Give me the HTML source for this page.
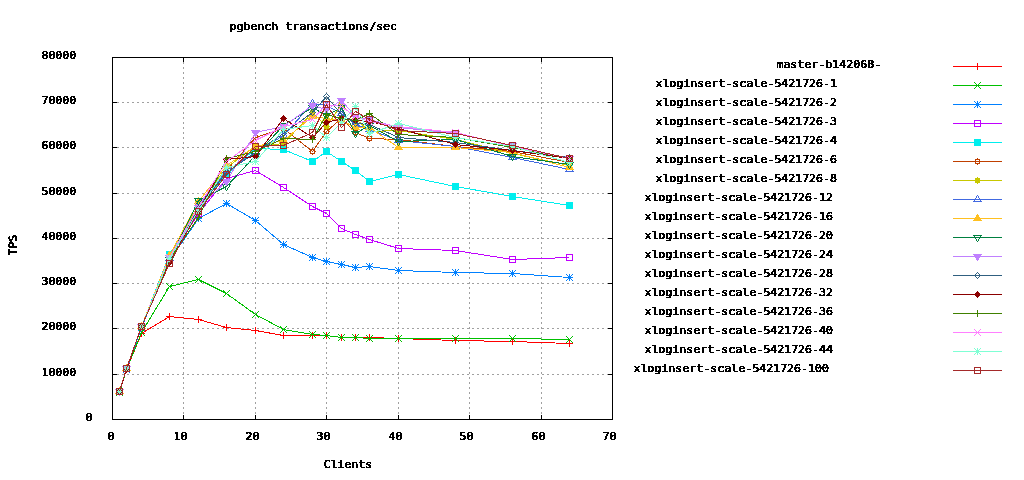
<!DOCTYPE html>
<html lang="en"><head><meta charset="utf-8"><title>pgbench transactions/sec</title>
<style>
html,body{margin:0;padding:0;background:#fff}
body{width:1024px;height:480px;overflow:hidden}
svg{display:block}
text{font-family:"DejaVu Sans Mono","Liberation Mono",monospace;font-weight:normal;font-size:11px;fill:#000;stroke:#000;stroke-width:.5px}
.g{stroke:#a0a0a0;stroke-width:1;stroke-dasharray:2 3;fill:none}
.b{stroke:#000;stroke-width:1;fill:none}
.s{stroke-width:1;fill:none}
</style></head><body>
<svg width="1024" height="480" viewBox="0 0 1024 480" shape-rendering="crispEdges">
<rect width="1024" height="480" fill="#fff"/>
<defs><filter id="bw" x="0" y="0" width="1024" height="480" filterUnits="userSpaceOnUse" color-interpolation-filters="sRGB"><feComponentTransfer><feFuncA type="discrete" tableValues="0 0 1 1 1"/></feComponentTransfer></filter></defs>
<g class="g">
<path d="M117 374.5H612"/>
<path d="M117 328.5H612"/>
<path d="M117 283.5H612"/>
<path d="M117 238.5H612"/>
<path d="M117 193.5H612"/>
<path d="M117 147.5H612"/>
<path d="M117 102.5H612"/>
<path d="M183.5 57V419"/>
<path d="M255.5 57V419"/>
<path d="M326.5 57V419"/>
<path d="M398.5 57V419"/>
<path d="M469.5 57V419"/>
<path d="M541.5 57V419"/>
</g>
<g class="s" stroke="#ff0000">
<polyline points="119.5,392.5 126.5,369.5 141.5,333.5 169.5,316.5 198.5,319.5 226.5,327.5 255.5,330.5 283.5,335.5 312.5,335.5 326.5,335.5 341.5,337.5 355.5,337.5 369.5,337.5 398.5,338.5 455.5,340.5 512.5,341.5 569.5,343.5"/>
<path d="M116 392.5h7M119.5 389v7"/>
<path d="M123 369.5h7M126.5 366v7"/>
<path d="M138 333.5h7M141.5 330v7"/>
<path d="M166 316.5h7M169.5 313v7"/>
<path d="M195 319.5h7M198.5 316v7"/>
<path d="M223 327.5h7M226.5 324v7"/>
<path d="M252 330.5h7M255.5 327v7"/>
<path d="M280 335.5h7M283.5 332v7"/>
<path d="M309 335.5h7M312.5 332v7"/>
<path d="M323 335.5h7M326.5 332v7"/>
<path d="M338 337.5h7M341.5 334v7"/>
<path d="M352 337.5h7M355.5 334v7"/>
<path d="M366 337.5h7M369.5 334v7"/>
<path d="M395 338.5h7M398.5 335v7"/>
<path d="M452 340.5h7M455.5 337v7"/>
<path d="M509 341.5h7M512.5 338v7"/>
<path d="M566 343.5h7M569.5 340v7"/>
<path d="M953 66.5H1002"/>
<path d="M974 66.5h7M977.5 63v7"/>
</g>
<g class="s" stroke="#00c000">
<polyline points="119.5,392.5 126.5,369.5 141.5,332.5 169.5,286.5 198.5,279.5 226.5,293.5 255.5,314.5 283.5,329.5 312.5,334.5 326.5,335.5 341.5,337.5 355.5,337.5 369.5,338.5 398.5,338.5 455.5,338.5 512.5,338.5 569.5,339.5"/>
<path d="M116.0 389.0l7 7M116.0 396.0l7 -7"/>
<path d="M123.0 366.0l7 7M123.0 373.0l7 -7"/>
<path d="M138.0 329.0l7 7M138.0 336.0l7 -7"/>
<path d="M166.0 283.0l7 7M166.0 290.0l7 -7"/>
<path d="M195.0 276.0l7 7M195.0 283.0l7 -7"/>
<path d="M223.0 290.0l7 7M223.0 297.0l7 -7"/>
<path d="M252.0 311.0l7 7M252.0 318.0l7 -7"/>
<path d="M280.0 326.0l7 7M280.0 333.0l7 -7"/>
<path d="M309.0 331.0l7 7M309.0 338.0l7 -7"/>
<path d="M323.0 332.0l7 7M323.0 339.0l7 -7"/>
<path d="M338.0 334.0l7 7M338.0 341.0l7 -7"/>
<path d="M352.0 334.0l7 7M352.0 341.0l7 -7"/>
<path d="M366.0 335.0l7 7M366.0 342.0l7 -7"/>
<path d="M395.0 335.0l7 7M395.0 342.0l7 -7"/>
<path d="M452.0 335.0l7 7M452.0 342.0l7 -7"/>
<path d="M509.0 335.0l7 7M509.0 342.0l7 -7"/>
<path d="M566.0 336.0l7 7M566.0 343.0l7 -7"/>
<path d="M953 85.5H1002"/>
<path d="M974.0 82.0l7 7M974.0 89.0l7 -7"/>
</g>
<g class="s" stroke="#0080ff">
<polyline points="119.5,391.5 126.5,369.5 141.5,327.5 169.5,260.5 198.5,218.5 226.5,203.5 255.5,220.5 283.5,244.5 312.5,257.5 326.5,261.5 341.5,264.5 355.5,267.5 369.5,266.5 398.5,270.5 455.5,272.5 512.5,273.5 569.5,277.5"/>
<path d="M116 391.5h7M119.5 388v7"/><path d="M116.0 388.0l7 7M116.0 395.0l7 -7"/>
<path d="M123 369.5h7M126.5 366v7"/><path d="M123.0 366.0l7 7M123.0 373.0l7 -7"/>
<path d="M138 327.5h7M141.5 324v7"/><path d="M138.0 324.0l7 7M138.0 331.0l7 -7"/>
<path d="M166 260.5h7M169.5 257v7"/><path d="M166.0 257.0l7 7M166.0 264.0l7 -7"/>
<path d="M195 218.5h7M198.5 215v7"/><path d="M195.0 215.0l7 7M195.0 222.0l7 -7"/>
<path d="M223 203.5h7M226.5 200v7"/><path d="M223.0 200.0l7 7M223.0 207.0l7 -7"/>
<path d="M252 220.5h7M255.5 217v7"/><path d="M252.0 217.0l7 7M252.0 224.0l7 -7"/>
<path d="M280 244.5h7M283.5 241v7"/><path d="M280.0 241.0l7 7M280.0 248.0l7 -7"/>
<path d="M309 257.5h7M312.5 254v7"/><path d="M309.0 254.0l7 7M309.0 261.0l7 -7"/>
<path d="M323 261.5h7M326.5 258v7"/><path d="M323.0 258.0l7 7M323.0 265.0l7 -7"/>
<path d="M338 264.5h7M341.5 261v7"/><path d="M338.0 261.0l7 7M338.0 268.0l7 -7"/>
<path d="M352 267.5h7M355.5 264v7"/><path d="M352.0 264.0l7 7M352.0 271.0l7 -7"/>
<path d="M366 266.5h7M369.5 263v7"/><path d="M366.0 263.0l7 7M366.0 270.0l7 -7"/>
<path d="M395 270.5h7M398.5 267v7"/><path d="M395.0 267.0l7 7M395.0 274.0l7 -7"/>
<path d="M452 272.5h7M455.5 269v7"/><path d="M452.0 269.0l7 7M452.0 276.0l7 -7"/>
<path d="M509 273.5h7M512.5 270v7"/><path d="M509.0 270.0l7 7M509.0 277.0l7 -7"/>
<path d="M566 277.5h7M569.5 274v7"/><path d="M566.0 274.0l7 7M566.0 281.0l7 -7"/>
<path d="M953 104.5H1002"/>
<path d="M974 104.5h7M977.5 101v7"/><path d="M974.0 101.0l7 7M974.0 108.0l7 -7"/>
</g>
<g class="s" stroke="#c000ff">
<polyline points="119.5,391.5 126.5,368.5 141.5,326.5 169.5,258.5 198.5,213.5 226.5,178.5 255.5,170.5 283.5,187.5 312.5,206.5 326.5,213.5 341.5,228.5 355.5,234.5 369.5,239.5 398.5,248.5 455.5,250.5 512.5,259.5 569.5,257.5"/>
<rect x="116.5" y="388.5" width="6" height="6" fill="none"/>
<rect x="123.5" y="365.5" width="6" height="6" fill="none"/>
<rect x="138.5" y="323.5" width="6" height="6" fill="none"/>
<rect x="166.5" y="255.5" width="6" height="6" fill="none"/>
<rect x="195.5" y="210.5" width="6" height="6" fill="none"/>
<rect x="223.5" y="175.5" width="6" height="6" fill="none"/>
<rect x="252.5" y="167.5" width="6" height="6" fill="none"/>
<rect x="280.5" y="184.5" width="6" height="6" fill="none"/>
<rect x="309.5" y="203.5" width="6" height="6" fill="none"/>
<rect x="323.5" y="210.5" width="6" height="6" fill="none"/>
<rect x="338.5" y="225.5" width="6" height="6" fill="none"/>
<rect x="352.5" y="231.5" width="6" height="6" fill="none"/>
<rect x="366.5" y="236.5" width="6" height="6" fill="none"/>
<rect x="395.5" y="245.5" width="6" height="6" fill="none"/>
<rect x="452.5" y="247.5" width="6" height="6" fill="none"/>
<rect x="509.5" y="256.5" width="6" height="6" fill="none"/>
<rect x="566.5" y="254.5" width="6" height="6" fill="none"/>
<path d="M953 123.5H1002"/>
<rect x="974.5" y="120.5" width="6" height="6" fill="none"/>
</g>
<g class="s" stroke="#00eeee">
<polyline points="119.5,391.5 126.5,368.5 141.5,326.5 169.5,254.5 198.5,206.5 226.5,174.5 255.5,148.5 283.5,149.5 312.5,161.5 326.5,151.5 341.5,161.5 355.5,170.5 369.5,181.5 398.5,174.5 455.5,186.5 512.5,196.5 569.5,205.5"/>
<rect x="116" y="388" width="7" height="7" fill="#00eeee" stroke="none"/>
<rect x="123" y="365" width="7" height="7" fill="#00eeee" stroke="none"/>
<rect x="138" y="323" width="7" height="7" fill="#00eeee" stroke="none"/>
<rect x="166" y="251" width="7" height="7" fill="#00eeee" stroke="none"/>
<rect x="195" y="203" width="7" height="7" fill="#00eeee" stroke="none"/>
<rect x="223" y="171" width="7" height="7" fill="#00eeee" stroke="none"/>
<rect x="252" y="145" width="7" height="7" fill="#00eeee" stroke="none"/>
<rect x="280" y="146" width="7" height="7" fill="#00eeee" stroke="none"/>
<rect x="309" y="158" width="7" height="7" fill="#00eeee" stroke="none"/>
<rect x="323" y="148" width="7" height="7" fill="#00eeee" stroke="none"/>
<rect x="338" y="158" width="7" height="7" fill="#00eeee" stroke="none"/>
<rect x="352" y="167" width="7" height="7" fill="#00eeee" stroke="none"/>
<rect x="366" y="178" width="7" height="7" fill="#00eeee" stroke="none"/>
<rect x="395" y="171" width="7" height="7" fill="#00eeee" stroke="none"/>
<rect x="452" y="183" width="7" height="7" fill="#00eeee" stroke="none"/>
<rect x="509" y="193" width="7" height="7" fill="#00eeee" stroke="none"/>
<rect x="566" y="202" width="7" height="7" fill="#00eeee" stroke="none"/>
<path d="M953 142.5H1002"/>
<rect x="974" y="139" width="7" height="7" fill="#00eeee" stroke="none"/>
</g>
<g class="s" stroke="#c04000">
<polyline points="119.5,391.5 126.5,368.5 141.5,326.5 169.5,260.5 198.5,208.5 226.5,170.5 255.5,137.5 283.5,128.5 312.5,151.5 326.5,131.5 341.5,118.5 355.5,132.5 369.5,138.5 398.5,139.5 455.5,146.5 512.5,151.5 569.5,162.5"/>
<rect x="117.5" y="389.5" width="4" height="4" fill="none"/><path d="M119 388.5h1M119 394.5h1M116 391.5h1M122 391.5h1"/>
<rect x="124.5" y="366.5" width="4" height="4" fill="none"/><path d="M126 365.5h1M126 371.5h1M123 368.5h1M129 368.5h1"/>
<rect x="139.5" y="324.5" width="4" height="4" fill="none"/><path d="M141 323.5h1M141 329.5h1M138 326.5h1M144 326.5h1"/>
<rect x="167.5" y="258.5" width="4" height="4" fill="none"/><path d="M169 257.5h1M169 263.5h1M166 260.5h1M172 260.5h1"/>
<rect x="196.5" y="206.5" width="4" height="4" fill="none"/><path d="M198 205.5h1M198 211.5h1M195 208.5h1M201 208.5h1"/>
<rect x="224.5" y="168.5" width="4" height="4" fill="none"/><path d="M226 167.5h1M226 173.5h1M223 170.5h1M229 170.5h1"/>
<rect x="253.5" y="135.5" width="4" height="4" fill="none"/><path d="M255 134.5h1M255 140.5h1M252 137.5h1M258 137.5h1"/>
<rect x="281.5" y="126.5" width="4" height="4" fill="none"/><path d="M283 125.5h1M283 131.5h1M280 128.5h1M286 128.5h1"/>
<rect x="310.5" y="149.5" width="4" height="4" fill="none"/><path d="M312 148.5h1M312 154.5h1M309 151.5h1M315 151.5h1"/>
<rect x="324.5" y="129.5" width="4" height="4" fill="none"/><path d="M326 128.5h1M326 134.5h1M323 131.5h1M329 131.5h1"/>
<rect x="339.5" y="116.5" width="4" height="4" fill="none"/><path d="M341 115.5h1M341 121.5h1M338 118.5h1M344 118.5h1"/>
<rect x="353.5" y="130.5" width="4" height="4" fill="none"/><path d="M355 129.5h1M355 135.5h1M352 132.5h1M358 132.5h1"/>
<rect x="367.5" y="136.5" width="4" height="4" fill="none"/><path d="M369 135.5h1M369 141.5h1M366 138.5h1M372 138.5h1"/>
<rect x="396.5" y="137.5" width="4" height="4" fill="none"/><path d="M398 136.5h1M398 142.5h1M395 139.5h1M401 139.5h1"/>
<rect x="453.5" y="144.5" width="4" height="4" fill="none"/><path d="M455 143.5h1M455 149.5h1M452 146.5h1M458 146.5h1"/>
<rect x="510.5" y="149.5" width="4" height="4" fill="none"/><path d="M512 148.5h1M512 154.5h1M509 151.5h1M515 151.5h1"/>
<rect x="567.5" y="160.5" width="4" height="4" fill="none"/><path d="M569 159.5h1M569 165.5h1M566 162.5h1M572 162.5h1"/>
<path d="M953 161.5H1002"/>
<rect x="975.5" y="159.5" width="4" height="4" fill="none"/><path d="M977 158.5h1M977 164.5h1M974 161.5h1M980 161.5h1"/>
</g>
<g class="s" stroke="#c8c800">
<polyline points="119.5,391.5 126.5,368.5 141.5,326.5 169.5,257.5 198.5,204.5 226.5,167.5 255.5,146.5 283.5,143.5 312.5,112.5 326.5,126.5 341.5,104.5 355.5,118.5 369.5,131.5 398.5,130.5 455.5,139.5 512.5,153.5 569.5,165.5"/>
<rect x="117" y="389" width="5" height="5" fill="#c8c800" stroke="none"/><path d="M119 388.5h1M119 394.5h1M116 391.5h1M122 391.5h1"/>
<rect x="124" y="366" width="5" height="5" fill="#c8c800" stroke="none"/><path d="M126 365.5h1M126 371.5h1M123 368.5h1M129 368.5h1"/>
<rect x="139" y="324" width="5" height="5" fill="#c8c800" stroke="none"/><path d="M141 323.5h1M141 329.5h1M138 326.5h1M144 326.5h1"/>
<rect x="167" y="255" width="5" height="5" fill="#c8c800" stroke="none"/><path d="M169 254.5h1M169 260.5h1M166 257.5h1M172 257.5h1"/>
<rect x="196" y="202" width="5" height="5" fill="#c8c800" stroke="none"/><path d="M198 201.5h1M198 207.5h1M195 204.5h1M201 204.5h1"/>
<rect x="224" y="165" width="5" height="5" fill="#c8c800" stroke="none"/><path d="M226 164.5h1M226 170.5h1M223 167.5h1M229 167.5h1"/>
<rect x="253" y="144" width="5" height="5" fill="#c8c800" stroke="none"/><path d="M255 143.5h1M255 149.5h1M252 146.5h1M258 146.5h1"/>
<rect x="281" y="141" width="5" height="5" fill="#c8c800" stroke="none"/><path d="M283 140.5h1M283 146.5h1M280 143.5h1M286 143.5h1"/>
<rect x="310" y="110" width="5" height="5" fill="#c8c800" stroke="none"/><path d="M312 109.5h1M312 115.5h1M309 112.5h1M315 112.5h1"/>
<rect x="324" y="124" width="5" height="5" fill="#c8c800" stroke="none"/><path d="M326 123.5h1M326 129.5h1M323 126.5h1M329 126.5h1"/>
<rect x="339" y="102" width="5" height="5" fill="#c8c800" stroke="none"/><path d="M341 101.5h1M341 107.5h1M338 104.5h1M344 104.5h1"/>
<rect x="353" y="116" width="5" height="5" fill="#c8c800" stroke="none"/><path d="M355 115.5h1M355 121.5h1M352 118.5h1M358 118.5h1"/>
<rect x="367" y="129" width="5" height="5" fill="#c8c800" stroke="none"/><path d="M369 128.5h1M369 134.5h1M366 131.5h1M372 131.5h1"/>
<rect x="396" y="128" width="5" height="5" fill="#c8c800" stroke="none"/><path d="M398 127.5h1M398 133.5h1M395 130.5h1M401 130.5h1"/>
<rect x="453" y="137" width="5" height="5" fill="#c8c800" stroke="none"/><path d="M455 136.5h1M455 142.5h1M452 139.5h1M458 139.5h1"/>
<rect x="510" y="151" width="5" height="5" fill="#c8c800" stroke="none"/><path d="M512 150.5h1M512 156.5h1M509 153.5h1M515 153.5h1"/>
<rect x="567" y="163" width="5" height="5" fill="#c8c800" stroke="none"/><path d="M569 162.5h1M569 168.5h1M566 165.5h1M572 165.5h1"/>
<path d="M953 180.5H1002"/>
<rect x="975" y="178" width="5" height="5" fill="#c8c800" stroke="none"/><path d="M977 177.5h1M977 183.5h1M974 180.5h1M980 180.5h1"/>
</g>
<g class="s" stroke="#4169e1">
<polyline points="119.5,391.5 126.5,368.5 141.5,326.5 169.5,258.5 198.5,206.5 226.5,170.5 255.5,152.5 283.5,135.5 312.5,103.5 326.5,105.5 341.5,113.5 355.5,124.5 369.5,129.5 398.5,140.5 455.5,146.5 512.5,157.5 569.5,169.5"/>
<path d="M119.5 387.5L123.5 393.5L115.5 393.5Z" fill="none"/>
<path d="M126.5 364.5L130.5 370.5L122.5 370.5Z" fill="none"/>
<path d="M141.5 322.5L145.5 328.5L137.5 328.5Z" fill="none"/>
<path d="M169.5 254.5L173.5 260.5L165.5 260.5Z" fill="none"/>
<path d="M198.5 202.5L202.5 208.5L194.5 208.5Z" fill="none"/>
<path d="M226.5 166.5L230.5 172.5L222.5 172.5Z" fill="none"/>
<path d="M255.5 148.5L259.5 154.5L251.5 154.5Z" fill="none"/>
<path d="M283.5 131.5L287.5 137.5L279.5 137.5Z" fill="none"/>
<path d="M312.5 99.5L316.5 105.5L308.5 105.5Z" fill="none"/>
<path d="M326.5 101.5L330.5 107.5L322.5 107.5Z" fill="none"/>
<path d="M341.5 109.5L345.5 115.5L337.5 115.5Z" fill="none"/>
<path d="M355.5 120.5L359.5 126.5L351.5 126.5Z" fill="none"/>
<path d="M369.5 125.5L373.5 131.5L365.5 131.5Z" fill="none"/>
<path d="M398.5 136.5L402.5 142.5L394.5 142.5Z" fill="none"/>
<path d="M455.5 142.5L459.5 148.5L451.5 148.5Z" fill="none"/>
<path d="M512.5 153.5L516.5 159.5L508.5 159.5Z" fill="none"/>
<path d="M569.5 165.5L573.5 171.5L565.5 171.5Z" fill="none"/>
<path d="M953 199.5H1002"/>
<path d="M977.5 195.5L981.5 201.5L973.5 201.5Z" fill="none"/>
</g>
<g class="s" stroke="#ffc020">
<polyline points="119.5,391.5 126.5,368.5 141.5,326.5 169.5,255.5 198.5,201.5 226.5,165.5 255.5,146.5 283.5,140.5 312.5,116.5 326.5,118.5 341.5,120.5 355.5,127.5 369.5,127.5 398.5,147.5 455.5,147.5 512.5,152.5 569.5,167.5"/>
<path d="M119.5 387.5L123.5 393.5L115.5 393.5Z" fill="#ffc020"/>
<path d="M126.5 364.5L130.5 370.5L122.5 370.5Z" fill="#ffc020"/>
<path d="M141.5 322.5L145.5 328.5L137.5 328.5Z" fill="#ffc020"/>
<path d="M169.5 251.5L173.5 257.5L165.5 257.5Z" fill="#ffc020"/>
<path d="M198.5 197.5L202.5 203.5L194.5 203.5Z" fill="#ffc020"/>
<path d="M226.5 161.5L230.5 167.5L222.5 167.5Z" fill="#ffc020"/>
<path d="M255.5 142.5L259.5 148.5L251.5 148.5Z" fill="#ffc020"/>
<path d="M283.5 136.5L287.5 142.5L279.5 142.5Z" fill="#ffc020"/>
<path d="M312.5 112.5L316.5 118.5L308.5 118.5Z" fill="#ffc020"/>
<path d="M326.5 114.5L330.5 120.5L322.5 120.5Z" fill="#ffc020"/>
<path d="M341.5 116.5L345.5 122.5L337.5 122.5Z" fill="#ffc020"/>
<path d="M355.5 123.5L359.5 129.5L351.5 129.5Z" fill="#ffc020"/>
<path d="M369.5 123.5L373.5 129.5L365.5 129.5Z" fill="#ffc020"/>
<path d="M398.5 143.5L402.5 149.5L394.5 149.5Z" fill="#ffc020"/>
<path d="M455.5 143.5L459.5 149.5L451.5 149.5Z" fill="#ffc020"/>
<path d="M512.5 148.5L516.5 154.5L508.5 154.5Z" fill="#ffc020"/>
<path d="M569.5 163.5L573.5 169.5L565.5 169.5Z" fill="#ffc020"/>
<path d="M953 218.5H1002"/>
<path d="M977.5 214.5L981.5 220.5L973.5 220.5Z" fill="#ffc020"/>
</g>
<g class="s" stroke="#008040">
<polyline points="119.5,391.5 126.5,368.5 141.5,326.5 169.5,259.5 198.5,200.5 226.5,186.5 255.5,155.5 283.5,125.5 312.5,107.5 326.5,115.5 341.5,107.5 355.5,133.5 369.5,125.5 398.5,141.5 455.5,139.5 512.5,156.5 569.5,164.5"/>
<path d="M119.5 395.5L123.5 389.5L115.5 389.5Z" fill="none"/>
<path d="M126.5 372.5L130.5 366.5L122.5 366.5Z" fill="none"/>
<path d="M141.5 330.5L145.5 324.5L137.5 324.5Z" fill="none"/>
<path d="M169.5 263.5L173.5 257.5L165.5 257.5Z" fill="none"/>
<path d="M198.5 204.5L202.5 198.5L194.5 198.5Z" fill="none"/>
<path d="M226.5 190.5L230.5 184.5L222.5 184.5Z" fill="none"/>
<path d="M255.5 159.5L259.5 153.5L251.5 153.5Z" fill="none"/>
<path d="M283.5 129.5L287.5 123.5L279.5 123.5Z" fill="none"/>
<path d="M312.5 111.5L316.5 105.5L308.5 105.5Z" fill="none"/>
<path d="M326.5 119.5L330.5 113.5L322.5 113.5Z" fill="none"/>
<path d="M341.5 111.5L345.5 105.5L337.5 105.5Z" fill="none"/>
<path d="M355.5 137.5L359.5 131.5L351.5 131.5Z" fill="none"/>
<path d="M369.5 129.5L373.5 123.5L365.5 123.5Z" fill="none"/>
<path d="M398.5 145.5L402.5 139.5L394.5 139.5Z" fill="none"/>
<path d="M455.5 143.5L459.5 137.5L451.5 137.5Z" fill="none"/>
<path d="M512.5 160.5L516.5 154.5L508.5 154.5Z" fill="none"/>
<path d="M569.5 168.5L573.5 162.5L565.5 162.5Z" fill="none"/>
<path d="M953 237.5H1002"/>
<path d="M977.5 241.5L981.5 235.5L973.5 235.5Z" fill="none"/>
</g>
<g class="s" stroke="#c080ff">
<polyline points="119.5,391.5 126.5,368.5 141.5,326.5 169.5,257.5 198.5,207.5 226.5,181.5 255.5,132.5 283.5,126.5 312.5,105.5 326.5,109.5 341.5,100.5 355.5,116.5 369.5,119.5 398.5,127.5 455.5,133.5 512.5,145.5 569.5,158.5"/>
<path d="M119.5 395.5L123.5 389.5L115.5 389.5Z" fill="#c080ff"/>
<path d="M126.5 372.5L130.5 366.5L122.5 366.5Z" fill="#c080ff"/>
<path d="M141.5 330.5L145.5 324.5L137.5 324.5Z" fill="#c080ff"/>
<path d="M169.5 261.5L173.5 255.5L165.5 255.5Z" fill="#c080ff"/>
<path d="M198.5 211.5L202.5 205.5L194.5 205.5Z" fill="#c080ff"/>
<path d="M226.5 185.5L230.5 179.5L222.5 179.5Z" fill="#c080ff"/>
<path d="M255.5 136.5L259.5 130.5L251.5 130.5Z" fill="#c080ff"/>
<path d="M283.5 130.5L287.5 124.5L279.5 124.5Z" fill="#c080ff"/>
<path d="M312.5 109.5L316.5 103.5L308.5 103.5Z" fill="#c080ff"/>
<path d="M326.5 113.5L330.5 107.5L322.5 107.5Z" fill="#c080ff"/>
<path d="M341.5 104.5L345.5 98.5L337.5 98.5Z" fill="#c080ff"/>
<path d="M355.5 120.5L359.5 114.5L351.5 114.5Z" fill="#c080ff"/>
<path d="M369.5 123.5L373.5 117.5L365.5 117.5Z" fill="#c080ff"/>
<path d="M398.5 131.5L402.5 125.5L394.5 125.5Z" fill="#c080ff"/>
<path d="M455.5 137.5L459.5 131.5L451.5 131.5Z" fill="#c080ff"/>
<path d="M512.5 149.5L516.5 143.5L508.5 143.5Z" fill="#c080ff"/>
<path d="M569.5 162.5L573.5 156.5L565.5 156.5Z" fill="#c080ff"/>
<path d="M953 256.5H1002"/>
<path d="M977.5 260.5L981.5 254.5L973.5 254.5Z" fill="#c080ff"/>
</g>
<g class="s" stroke="#306080">
<polyline points="119.5,391.5 126.5,369.5 141.5,326.5 169.5,260.5 198.5,208.5 226.5,172.5 255.5,152.5 283.5,133.5 312.5,112.5 326.5,96.5 341.5,114.5 355.5,123.5 369.5,124.5 398.5,137.5 455.5,142.5 512.5,150.5 569.5,157.5"/>
<path d="M119.5 388.5L122.5 391.5L119.5 394.5L116.5 391.5Z" fill="none"/>
<path d="M126.5 366.5L129.5 369.5L126.5 372.5L123.5 369.5Z" fill="none"/>
<path d="M141.5 323.5L144.5 326.5L141.5 329.5L138.5 326.5Z" fill="none"/>
<path d="M169.5 257.5L172.5 260.5L169.5 263.5L166.5 260.5Z" fill="none"/>
<path d="M198.5 205.5L201.5 208.5L198.5 211.5L195.5 208.5Z" fill="none"/>
<path d="M226.5 169.5L229.5 172.5L226.5 175.5L223.5 172.5Z" fill="none"/>
<path d="M255.5 149.5L258.5 152.5L255.5 155.5L252.5 152.5Z" fill="none"/>
<path d="M283.5 130.5L286.5 133.5L283.5 136.5L280.5 133.5Z" fill="none"/>
<path d="M312.5 109.5L315.5 112.5L312.5 115.5L309.5 112.5Z" fill="none"/>
<path d="M326.5 93.5L329.5 96.5L326.5 99.5L323.5 96.5Z" fill="none"/>
<path d="M341.5 111.5L344.5 114.5L341.5 117.5L338.5 114.5Z" fill="none"/>
<path d="M355.5 120.5L358.5 123.5L355.5 126.5L352.5 123.5Z" fill="none"/>
<path d="M369.5 121.5L372.5 124.5L369.5 127.5L366.5 124.5Z" fill="none"/>
<path d="M398.5 134.5L401.5 137.5L398.5 140.5L395.5 137.5Z" fill="none"/>
<path d="M455.5 139.5L458.5 142.5L455.5 145.5L452.5 142.5Z" fill="none"/>
<path d="M512.5 147.5L515.5 150.5L512.5 153.5L509.5 150.5Z" fill="none"/>
<path d="M569.5 154.5L572.5 157.5L569.5 160.5L566.5 157.5Z" fill="none"/>
<path d="M953 275.5H1002"/>
<path d="M977.5 272.5L980.5 275.5L977.5 278.5L974.5 275.5Z" fill="none"/>
</g>
<g class="s" stroke="#8b0000">
<polyline points="119.5,391.5 126.5,369.5 141.5,326.5 169.5,262.5 198.5,211.5 226.5,159.5 255.5,156.5 283.5,118.5 312.5,137.5 326.5,122.5 341.5,118.5 355.5,120.5 369.5,121.5 398.5,128.5 455.5,144.5 512.5,150.5 569.5,158.5"/>
<path d="M119.5 388.5L122.5 391.5L119.5 394.5L116.5 391.5Z" fill="#8b0000"/>
<path d="M126.5 366.5L129.5 369.5L126.5 372.5L123.5 369.5Z" fill="#8b0000"/>
<path d="M141.5 323.5L144.5 326.5L141.5 329.5L138.5 326.5Z" fill="#8b0000"/>
<path d="M169.5 259.5L172.5 262.5L169.5 265.5L166.5 262.5Z" fill="#8b0000"/>
<path d="M198.5 208.5L201.5 211.5L198.5 214.5L195.5 211.5Z" fill="#8b0000"/>
<path d="M226.5 156.5L229.5 159.5L226.5 162.5L223.5 159.5Z" fill="#8b0000"/>
<path d="M255.5 153.5L258.5 156.5L255.5 159.5L252.5 156.5Z" fill="#8b0000"/>
<path d="M283.5 115.5L286.5 118.5L283.5 121.5L280.5 118.5Z" fill="#8b0000"/>
<path d="M312.5 134.5L315.5 137.5L312.5 140.5L309.5 137.5Z" fill="#8b0000"/>
<path d="M326.5 119.5L329.5 122.5L326.5 125.5L323.5 122.5Z" fill="#8b0000"/>
<path d="M341.5 115.5L344.5 118.5L341.5 121.5L338.5 118.5Z" fill="#8b0000"/>
<path d="M355.5 117.5L358.5 120.5L355.5 123.5L352.5 120.5Z" fill="#8b0000"/>
<path d="M369.5 118.5L372.5 121.5L369.5 124.5L366.5 121.5Z" fill="#8b0000"/>
<path d="M398.5 125.5L401.5 128.5L398.5 131.5L395.5 128.5Z" fill="#8b0000"/>
<path d="M455.5 141.5L458.5 144.5L455.5 147.5L452.5 144.5Z" fill="#8b0000"/>
<path d="M512.5 147.5L515.5 150.5L512.5 153.5L509.5 150.5Z" fill="#8b0000"/>
<path d="M569.5 155.5L572.5 158.5L569.5 161.5L566.5 158.5Z" fill="#8b0000"/>
<path d="M953 294.5H1002"/>
<path d="M977.5 291.5L980.5 294.5L977.5 297.5L974.5 294.5Z" fill="#8b0000"/>
</g>
<g class="s" stroke="#408000">
<polyline points="119.5,391.5 126.5,368.5 141.5,326.5 169.5,259.5 198.5,217.5 226.5,158.5 255.5,151.5 283.5,138.5 312.5,139.5 326.5,114.5 341.5,118.5 355.5,120.5 369.5,113.5 398.5,134.5 455.5,137.5 512.5,147.5 569.5,158.5"/>
<path d="M116 391.5h7M119.5 388v7"/>
<path d="M123 368.5h7M126.5 365v7"/>
<path d="M138 326.5h7M141.5 323v7"/>
<path d="M166 259.5h7M169.5 256v7"/>
<path d="M195 217.5h7M198.5 214v7"/>
<path d="M223 158.5h7M226.5 155v7"/>
<path d="M252 151.5h7M255.5 148v7"/>
<path d="M280 138.5h7M283.5 135v7"/>
<path d="M309 139.5h7M312.5 136v7"/>
<path d="M323 114.5h7M326.5 111v7"/>
<path d="M338 118.5h7M341.5 115v7"/>
<path d="M352 120.5h7M355.5 117v7"/>
<path d="M366 113.5h7M369.5 110v7"/>
<path d="M395 134.5h7M398.5 131v7"/>
<path d="M452 137.5h7M455.5 134v7"/>
<path d="M509 147.5h7M512.5 144v7"/>
<path d="M566 158.5h7M569.5 155v7"/>
<path d="M953 313.5H1002"/>
<path d="M974 313.5h7M977.5 310v7"/>
</g>
<g class="s" stroke="#ff80ff">
<polyline points="119.5,391.5 126.5,368.5 141.5,326.5 169.5,257.5 198.5,206.5 226.5,161.5 255.5,140.5 283.5,126.5 312.5,119.5 326.5,104.5 341.5,106.5 355.5,116.5 369.5,121.5 398.5,126.5 455.5,132.5 512.5,146.5 569.5,158.5"/>
<path d="M116.0 388.0l7 7M116.0 395.0l7 -7"/>
<path d="M123.0 365.0l7 7M123.0 372.0l7 -7"/>
<path d="M138.0 323.0l7 7M138.0 330.0l7 -7"/>
<path d="M166.0 254.0l7 7M166.0 261.0l7 -7"/>
<path d="M195.0 203.0l7 7M195.0 210.0l7 -7"/>
<path d="M223.0 158.0l7 7M223.0 165.0l7 -7"/>
<path d="M252.0 137.0l7 7M252.0 144.0l7 -7"/>
<path d="M280.0 123.0l7 7M280.0 130.0l7 -7"/>
<path d="M309.0 116.0l7 7M309.0 123.0l7 -7"/>
<path d="M323.0 101.0l7 7M323.0 108.0l7 -7"/>
<path d="M338.0 103.0l7 7M338.0 110.0l7 -7"/>
<path d="M352.0 113.0l7 7M352.0 120.0l7 -7"/>
<path d="M366.0 118.0l7 7M366.0 125.0l7 -7"/>
<path d="M395.0 123.0l7 7M395.0 130.0l7 -7"/>
<path d="M452.0 129.0l7 7M452.0 136.0l7 -7"/>
<path d="M509.0 143.0l7 7M509.0 150.0l7 -7"/>
<path d="M566.0 155.0l7 7M566.0 162.0l7 -7"/>
<path d="M953 332.5H1002"/>
<path d="M974.0 329.0l7 7M974.0 336.0l7 -7"/>
</g>
<g class="s" stroke="#7fffd4">
<polyline points="119.5,391.5 126.5,368.5 141.5,326.5 169.5,258.5 198.5,210.5 226.5,167.5 255.5,161.5 283.5,129.5 312.5,125.5 326.5,137.5 341.5,122.5 355.5,106.5 369.5,133.5 398.5,123.5 455.5,137.5 512.5,146.5 569.5,162.5"/>
<path d="M116 391.5h7M119.5 388v7"/><path d="M116.0 388.0l7 7M116.0 395.0l7 -7"/>
<path d="M123 368.5h7M126.5 365v7"/><path d="M123.0 365.0l7 7M123.0 372.0l7 -7"/>
<path d="M138 326.5h7M141.5 323v7"/><path d="M138.0 323.0l7 7M138.0 330.0l7 -7"/>
<path d="M166 258.5h7M169.5 255v7"/><path d="M166.0 255.0l7 7M166.0 262.0l7 -7"/>
<path d="M195 210.5h7M198.5 207v7"/><path d="M195.0 207.0l7 7M195.0 214.0l7 -7"/>
<path d="M223 167.5h7M226.5 164v7"/><path d="M223.0 164.0l7 7M223.0 171.0l7 -7"/>
<path d="M252 161.5h7M255.5 158v7"/><path d="M252.0 158.0l7 7M252.0 165.0l7 -7"/>
<path d="M280 129.5h7M283.5 126v7"/><path d="M280.0 126.0l7 7M280.0 133.0l7 -7"/>
<path d="M309 125.5h7M312.5 122v7"/><path d="M309.0 122.0l7 7M309.0 129.0l7 -7"/>
<path d="M323 137.5h7M326.5 134v7"/><path d="M323.0 134.0l7 7M323.0 141.0l7 -7"/>
<path d="M338 122.5h7M341.5 119v7"/><path d="M338.0 119.0l7 7M338.0 126.0l7 -7"/>
<path d="M352 106.5h7M355.5 103v7"/><path d="M352.0 103.0l7 7M352.0 110.0l7 -7"/>
<path d="M366 133.5h7M369.5 130v7"/><path d="M366.0 130.0l7 7M366.0 137.0l7 -7"/>
<path d="M395 123.5h7M398.5 120v7"/><path d="M395.0 120.0l7 7M395.0 127.0l7 -7"/>
<path d="M452 137.5h7M455.5 134v7"/><path d="M452.0 134.0l7 7M452.0 141.0l7 -7"/>
<path d="M509 146.5h7M512.5 143v7"/><path d="M509.0 143.0l7 7M509.0 150.0l7 -7"/>
<path d="M566 162.5h7M569.5 159v7"/><path d="M566.0 159.0l7 7M566.0 166.0l7 -7"/>
<path d="M953 351.5H1002"/>
<path d="M974 351.5h7M977.5 348v7"/><path d="M974.0 348.0l7 7M974.0 355.0l7 -7"/>
</g>
<g class="s" stroke="#a52a2a">
<polyline points="119.5,391.5 126.5,368.5 141.5,326.5 169.5,263.5 198.5,211.5 226.5,174.5 255.5,146.5 283.5,145.5 312.5,132.5 326.5,104.5 341.5,127.5 355.5,111.5 369.5,119.5 398.5,130.5 455.5,133.5 512.5,145.5 569.5,158.5"/>
<rect x="116.5" y="388.5" width="6" height="6" fill="none"/>
<rect x="123.5" y="365.5" width="6" height="6" fill="none"/>
<rect x="138.5" y="323.5" width="6" height="6" fill="none"/>
<rect x="166.5" y="260.5" width="6" height="6" fill="none"/>
<rect x="195.5" y="208.5" width="6" height="6" fill="none"/>
<rect x="223.5" y="171.5" width="6" height="6" fill="none"/>
<rect x="252.5" y="143.5" width="6" height="6" fill="none"/>
<rect x="280.5" y="142.5" width="6" height="6" fill="none"/>
<rect x="309.5" y="129.5" width="6" height="6" fill="none"/>
<rect x="323.5" y="101.5" width="6" height="6" fill="none"/>
<rect x="338.5" y="124.5" width="6" height="6" fill="none"/>
<rect x="352.5" y="108.5" width="6" height="6" fill="none"/>
<rect x="366.5" y="116.5" width="6" height="6" fill="none"/>
<rect x="395.5" y="127.5" width="6" height="6" fill="none"/>
<rect x="452.5" y="130.5" width="6" height="6" fill="none"/>
<rect x="509.5" y="142.5" width="6" height="6" fill="none"/>
<rect x="566.5" y="155.5" width="6" height="6" fill="none"/>
<path d="M953 370.5H1002"/>
<rect x="974.5" y="367.5" width="6" height="6" fill="none"/>
</g>
<g class="b">
<rect x="112.5" y="57.5" width="500" height="362"/>
<path d="M113 419.5h4M608 419.5h4M113 374.5h4M608 374.5h4M113 328.5h4M608 328.5h4M113 283.5h4M608 283.5h4M113 238.5h4M608 238.5h4M113 193.5h4M608 193.5h4M113 147.5h4M608 147.5h4M113 102.5h4M608 102.5h4M113 57.5h4M608 57.5h4M112.5 415v4M112.5 58v4M183.5 415v4M183.5 58v4M255.5 415v4M255.5 58v4M326.5 415v4M326.5 58v4M398.5 415v4M398.5 58v4M469.5 415v4M469.5 58v4M541.5 415v4M541.5 58v4M612.5 415v4M612.5 58v4"/>
</g>
<g filter="url(#bw)">
<text transform="translate(85.4 421) scale(1.0570 1)">0</text>
<text transform="translate(41.4 376) scale(1.0570 1)">10000</text>
<text transform="translate(41.4 330) scale(1.0570 1)">20000</text>
<text transform="translate(41.4 285) scale(1.0570 1)">30000</text>
<text transform="translate(41.4 240) scale(1.0570 1)">40000</text>
<text transform="translate(41.4 195) scale(1.0570 1)">50000</text>
<text transform="translate(41.4 149) scale(1.0570 1)">60000</text>
<text transform="translate(41.4 104) scale(1.0570 1)">70000</text>
<text transform="translate(41.4 59) scale(1.0570 1)">80000</text>
<text transform="translate(107.4 440) scale(1.0570 1)">0</text>
<text transform="translate(173.4 440) scale(1.0570 1)">10</text>
<text transform="translate(245.4 440) scale(1.0570 1)">20</text>
<text transform="translate(316.4 440) scale(1.0570 1)">30</text>
<text transform="translate(388.4 440) scale(1.0570 1)">40</text>
<text transform="translate(459.4 440) scale(1.0570 1)">50</text>
<text transform="translate(531.4 440) scale(1.0570 1)">60</text>
<text transform="translate(602.4 440) scale(1.0570 1)">70</text>
<text transform="translate(229.4 30) scale(1.0570 1)">pgbench transactions/sec</text>
<text transform="translate(323.4 468) scale(1.0570 1)">Clients</text>
<text transform="translate(16.6 255.6) rotate(-90) scale(1.0570 1)">TPS</text>
<text transform="translate(776.4 68) scale(1.0570 1)">master-b142068-</text>
<text transform="translate(655.4 87) scale(1.0570 1)">xloginsert-scale-5421726-1</text>
<text transform="translate(655.4 106) scale(1.0570 1)">xloginsert-scale-5421726-2</text>
<text transform="translate(655.4 125) scale(1.0570 1)">xloginsert-scale-5421726-3</text>
<text transform="translate(655.4 144) scale(1.0570 1)">xloginsert-scale-5421726-4</text>
<text transform="translate(655.4 163) scale(1.0570 1)">xloginsert-scale-5421726-6</text>
<text transform="translate(655.4 182) scale(1.0570 1)">xloginsert-scale-5421726-8</text>
<text transform="translate(644.4 201) scale(1.0570 1)">xloginsert-scale-5421726-12</text>
<text transform="translate(644.4 220) scale(1.0570 1)">xloginsert-scale-5421726-16</text>
<text transform="translate(644.4 239) scale(1.0570 1)">xloginsert-scale-5421726-20</text>
<text transform="translate(644.4 258) scale(1.0570 1)">xloginsert-scale-5421726-24</text>
<text transform="translate(644.4 277) scale(1.0570 1)">xloginsert-scale-5421726-28</text>
<text transform="translate(644.4 296) scale(1.0570 1)">xloginsert-scale-5421726-32</text>
<text transform="translate(644.4 315) scale(1.0570 1)">xloginsert-scale-5421726-36</text>
<text transform="translate(644.4 334) scale(1.0570 1)">xloginsert-scale-5421726-40</text>
<text transform="translate(644.4 353) scale(1.0570 1)">xloginsert-scale-5421726-44</text>
<text transform="translate(633.4 372) scale(1.0570 1)">xloginsert-scale-5421726-100</text>
</g>
</svg>
</body></html>
